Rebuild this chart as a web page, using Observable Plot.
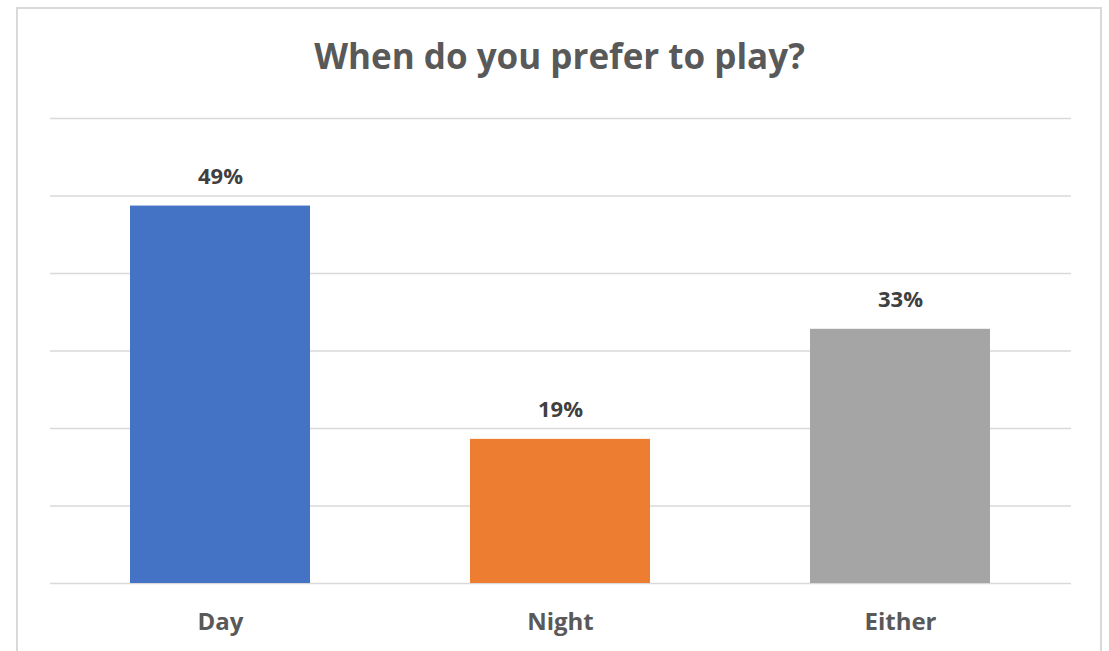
<!DOCTYPE html>
<html>
<head>
<meta charset="utf-8">
<script src="https://cdn.jsdelivr.net/npm/d3@7"></script>
<script src="https://cdn.jsdelivr.net/npm/@observablehq/plot@0.6"></script>
<style>
  html, body { margin: 0; padding: 0; background: #fff; }
  body { width: 1109px; height: 651px; position: relative; overflow: hidden; font-family: "Open Sans", Lato, sans-serif; }
  #frame { position: absolute; left: 16px; top: 7px; width: 1086px; height: 700px; border: 2px solid #d9d9d9; box-sizing: border-box; }
  #title { position: absolute; left: 0; width: 1119px; top: 36px; line-height: 40px; text-align: center; font-size: 35px; font-weight: bold; color: #595959; }
  #chart { position: absolute; left: 0; top: 0; }
</style>
</head>
<body>
<div id="frame"></div>
<div id="title">When do you prefer to play?</div>
<div id="chart"></div>
<script>
const categories = ["Day", "Night", "Either"];
const values = [0.487, 0.186, 0.328];
const colors = ["#4472C4", "#ED7D31", "#A5A5A5"];
const gridTicks = [0, 0.1, 0.2, 0.3, 0.4, 0.5, 0.6];

const data = categories.map((c, i) => ({category: c, value: values[i]}));
const fmt = d3.format(".0%");

const chart = Plot.plot({
  width: 1109,
  height: 651,
  marginLeft: 50,
  marginRight: 38,
  marginTop: 118,
  marginBottom: 68,
  style: {background: "transparent", fontFamily: "'Open Sans', Lato, sans-serif"},
  x: {domain: categories, paddingInner: 0.47, paddingOuter: 0.235, label: null},
  y: {domain: [0, 0.6], axis: null},
  color: {domain: categories, range: colors},
  marks: [
    Plot.ruleY(gridTicks, {stroke: "#d9d9d9", strokeWidth: 1.5}),
    Plot.barY(data, {x: "category", y: "value", fill: "category"}),
    Plot.text(data, {x: "category", y: "value", text: d => fmt(d.value), dy: -29.5, lineAnchor: "middle", fontSize: 22, fontWeight: "bold", fill: "#404040"}),
    Plot.axisX({tickSize: 0, tickPadding: 29, fontSize: 24, fontWeight: "bold", color: "#595959", label: null})
  ]
});
document.getElementById("chart").appendChild(chart);
</script>
</body>
</html>
